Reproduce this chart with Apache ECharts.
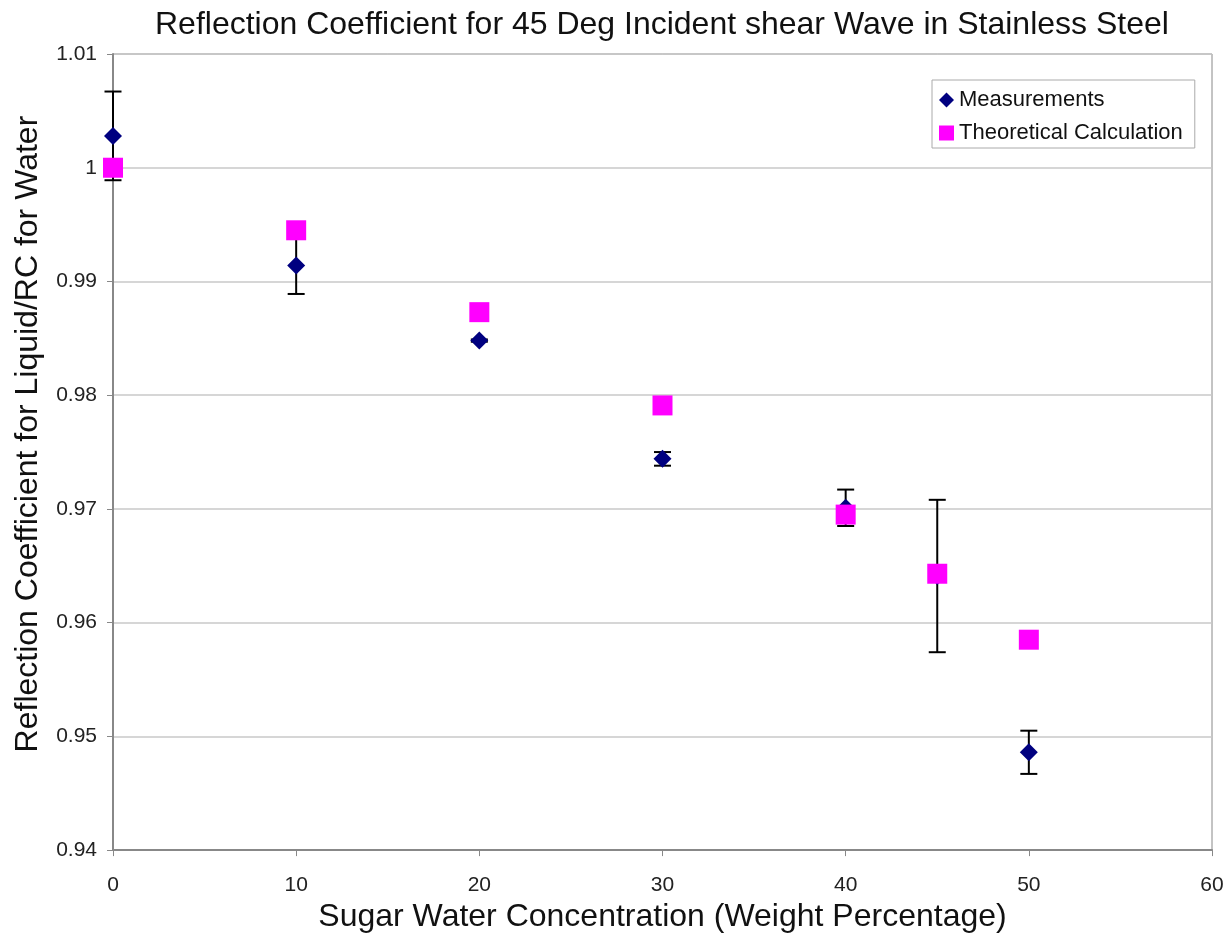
<!DOCTYPE html>
<html>
<head>
<meta charset="utf-8">
<script src="https://cdn.jsdelivr.net/npm/echarts@6/dist/echarts.min.js"></script>
<style>html,body{margin:0;padding:0;background:#fff;}#c{width:1228px;height:938px;}</style>
</head>
<body>
<div id="c"></div>
<script>
const concentrations = [0, 10, 20, 30, 40, 45, 50];
const measurements = [1.0028, 0.9914, 0.9848, 0.9744, 0.9701, 0.9641, 0.9486];
const measurementErr = [0.0039, 0.0025, 0.0001, 0.0006, 0.0016, 0.0067, 0.0019];
const theoretical = [1.0000, 0.9945, 0.9873, 0.9791, 0.9695, 0.9643, 0.9585];

const font = '"Liberation Sans", Arial, sans-serif';
const measData = concentrations.map((x, i) => [x, measurements[i]]);
const theoData = concentrations.map((x, i) => [x, theoretical[i]]);
const errData = concentrations.map((x, i) => [x, measurements[i] - measurementErr[i], measurements[i] + measurementErr[i]]);

const chart = echarts.init(document.getElementById('c'));
chart.setOption({
  animation: false,
  backgroundColor: '#fff',
  title: {
    text: 'Reflection Coefficient for 45 Deg Incident shear Wave in Stainless Steel',
    left: 150, top: 4,
    textStyle: { fontFamily: font, fontSize: 32, fontWeight: 'normal', color: '#111' }
  },
  legend: {
    orient: 'vertical',
    left: 932, top: 80,
    padding: [9, 12, 4, 7],
    itemGap: 11,
    itemWidth: 15, itemHeight: 15,
    borderColor: '#aaa', borderWidth: 1,
    textStyle: { fontFamily: font, fontSize: 22, color: '#111' },
    data: [
      { name: 'Measurements', icon: 'diamond' },
      { name: 'Theoretical Calculation', icon: 'rect' }
    ]
  },
  grid: {
    left: 113, right: 16, top: 54, bottom: 85,
    show: true, borderColor: '#888', borderWidth: 1
  },
  xAxis: {
    type: 'value', min: 0, max: 60, interval: 10,
    name: 'Sugar Water Concentration (Weight Percentage)',
    nameLocation: 'middle', nameGap: 46,
    nameTextStyle: { fontFamily: font, fontSize: 32, color: '#111' },
    axisLine: { onZero: false, lineStyle: { color: '#888', width: 2 } },
    axisTick: { show: true, length: 6, lineStyle: { color: '#888' } },
    axisLabel: { fontFamily: font, fontSize: 21, color: '#222', margin: 25 },
    splitLine: { show: false }
  },
  yAxis: {
    type: 'value', min: 0.94, max: 1.01, interval: 0.01,
    name: 'Reflection Coefficient for Liquid/RC for Water',
    nameLocation: 'middle', nameGap: 69,
    nameTextStyle: { fontFamily: font, fontSize: 32, color: '#111', padding: [0, 0, 0, 36] },
    axisLine: { show: true, lineStyle: { color: '#888', width: 2 } },
    axisTick: { show: true, length: 6, lineStyle: { color: '#888' } },
    axisLabel: { fontFamily: font, fontSize: 21, color: '#222', margin: 16,
      formatter: v => String(parseFloat(v.toFixed(2))) },
    splitLine: { show: true, lineStyle: { color: '#c8c8c8', width: 1.5 } }
  },
  series: [
    {
      type: 'custom',
      name: 'errors',
      data: errData,
      z: 1,
      renderItem: function (params, api) {
        const x = api.value(0);
        const lo = api.coord([x, api.value(1)]);
        const hi = api.coord([x, api.value(2)]);
        const hw = 8.5;
        const style = { stroke: '#000', lineWidth: 2 };
        return {
          type: 'group',
          children: [
            { type: 'line', shape: { x1: hi[0], y1: hi[1], x2: lo[0], y2: lo[1] }, style },
            { type: 'line', shape: { x1: hi[0] - hw, y1: hi[1], x2: hi[0] + hw, y2: hi[1] }, style },
            { type: 'line', shape: { x1: lo[0] - hw, y1: lo[1], x2: lo[0] + hw, y2: lo[1] }, style }
          ]
        };
      }
    },
    {
      type: 'scatter', name: 'Measurements', data: measData, z: 3,
      symbol: 'diamond', symbolSize: 18,
      itemStyle: { color: '#000080', opacity: 1 }
    },
    {
      type: 'scatter', name: 'Theoretical Calculation', data: theoData, z: 4,
      symbol: 'rect', symbolSize: 20,
      itemStyle: { color: '#FF00FF', opacity: 1 }
    }
  ]
});
</script>
</body>
</html>
